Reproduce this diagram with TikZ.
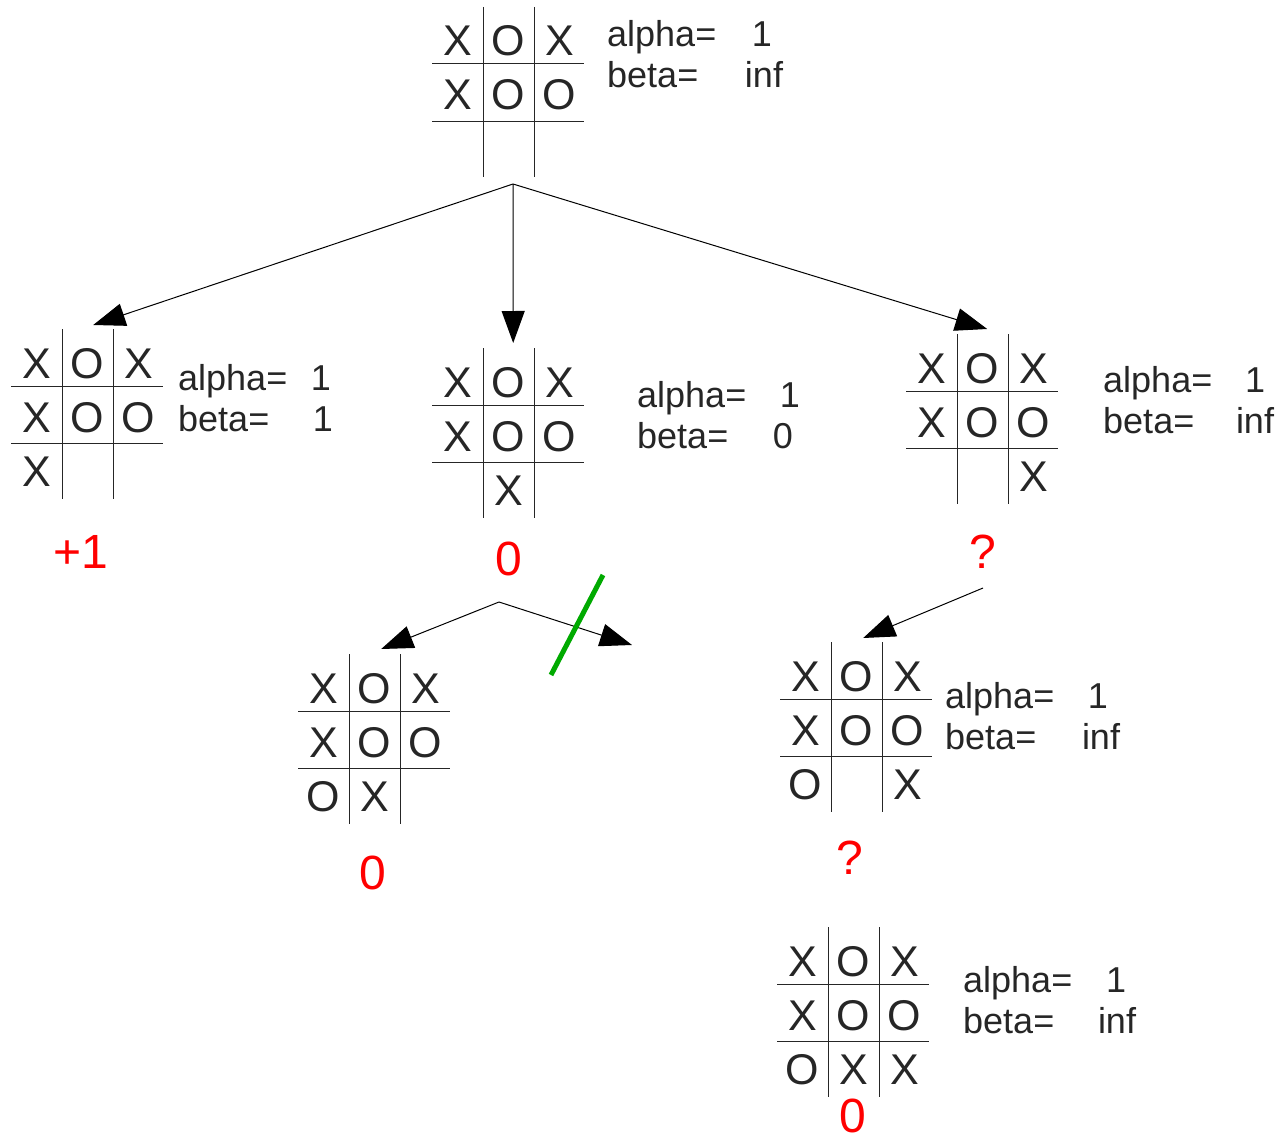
\documentclass[tikz,border=0pt]{standalone}
\usepackage{fontspec}
\setmainfont{Liberation Sans}
\usetikzlibrary{arrows.meta, positioning}

\definecolor{cutgreen}{RGB}{0,170,0}

% one board: name, top left corner, the nine cells row by row
\newcommand{\board}[3]{%
  \node[tttboard] (#1) at (#2) {};
  \draw[gridline] ([xshift=51pt]#1.north west) -- ([xshift=51pt]#1.south west);
  \draw[gridline] ([xshift=102pt]#1.north west) -- ([xshift=102pt]#1.south west);
  \draw[gridline] ([yshift=-57pt]#1.north west) -- ([yshift=-57pt]#1.north east);
  \draw[gridline] ([yshift=-114pt]#1.north west) -- ([yshift=-114pt]#1.north east);
  \foreach \c [count=\k from 0] in {#3} {
    \pgfmathsetmacro{\dx}{25.5+51*mod(\k,3)}
    \pgfmathsetmacro{\dy}{49+54*div(\k,3)}
    \node[piece] (#1-\k) at ([xshift=\dx pt, yshift=-\dy pt]#1.north west) {\c};
  }
}

% alpha/beta text: name, start of first line, offset and value for alpha, for beta
\newcommand{\ab}[6]{%
  \node[lbl] (#1a) at (#2) {alpha=};
  \node[lbl] (#1b) at ([yshift=-41pt]#1a.base west) {beta=};
  \node[val] (#1av) at ([xshift=#3]#1a.base west) {#4};
  \node[val] (#1bv) at ([xshift=#5]#1b.base west) {#6};
}

\begin{document}
\begin{tikzpicture}[x=1pt, y=-1pt,
    tttboard/.style={rectangle, inner sep=0pt, minimum width=152pt, minimum height=170pt, anchor=north west},
    gridline/.style={line width=1pt, black!85},
    piece/.style={anchor=base, inner sep=0pt, text=black!85, font=\fontsize{43}{43}\selectfont},
    lbl/.style={anchor=base west, inner sep=0pt, text=black!85, font=\fontsize{36}{36}\selectfont},
    val/.style={anchor=base, inner sep=0pt, text=black!85, font=\fontsize{36}{36}\selectfont},
    score/.style={inner sep=0pt, text=red, font=\fontsize{48}{48}\selectfont},
    arr/.style={-{Triangle[length=32pt, width=23pt]}, line width=1pt},
    cut/.style={cutgreen, line width=5pt}]
        \useasboundingbox (0,0) rectangle (1283,1140);

        % boards
        \board{root}{432,7}{X,O,X,X,O,O,{},{},{}}
        \board{b1}{11,329}{X,O,X,X,O,O,X,{},{}}
        \board{b2}{432,348}{X,O,X,X,O,O,{},X,{}}
        \board{b3}{906,334}{X,O,X,X,O,O,{},{},X}
        \board{c1}{298,654}{X,O,X,X,O,O,O,X,{}}
        \board{c2}{780,642}{X,O,X,X,O,O,O,{},X}
        \board{d}{777,927}{X,O,X,X,O,O,O,X,X}

        % alpha and beta
        \ab{root}{607,47}{155pt}{1}{157pt}{inf}
        \ab{b1}{178,390}{143pt}{1}{145pt}{1}
        \ab{b2}{637,407}{153pt}{1}{146pt}{0}
        \ab{b3}{1103,392}{152pt}{1}{152pt}{inf}
        \ab{c2}{945,708}{153pt}{1}{156pt}{inf}
        \ab{d}{963,992}{153pt}{1}{154pt}{inf}

        % values
        \node[score] (s1) at (81,552) {+1};
        \node[score] (s2) at (509,559) {0};
        \node[score] (s3) at (983,552) {?};
        \node[score] (s4) at (373,873) {0};
        \node[score] (s5) at (850,858) {?};
        \node[score] (s6) at (853,1116) {0};

        \coordinate (f0) at (513,184);
        \coordinate (f2) at (499,602);
        \coordinate (f3) at (983,588);
        \coordinate (open) at (632,645);

        %Draw Arrows
        \draw[arr] (f0) -- ([xshift=6pt, yshift=4pt]b1.north);
        \draw[arr] (f0) -- ([xshift=5pt, yshift=5pt]b2.north);
        \draw[arr] (f0) -- ([xshift=5pt, yshift=5pt]b3.north);

        \draw[arr] (f2) -- ([xshift=7pt, yshift=5pt]c1.north);
        \draw[arr] (f2) -- (open);
        \draw[arr] (f3) -- ([xshift=7pt, yshift=4pt]c2.north);

        % pruned branch
        \draw[cut] (603,575) -- (551,675);

    \end{tikzpicture}
\end{document}
